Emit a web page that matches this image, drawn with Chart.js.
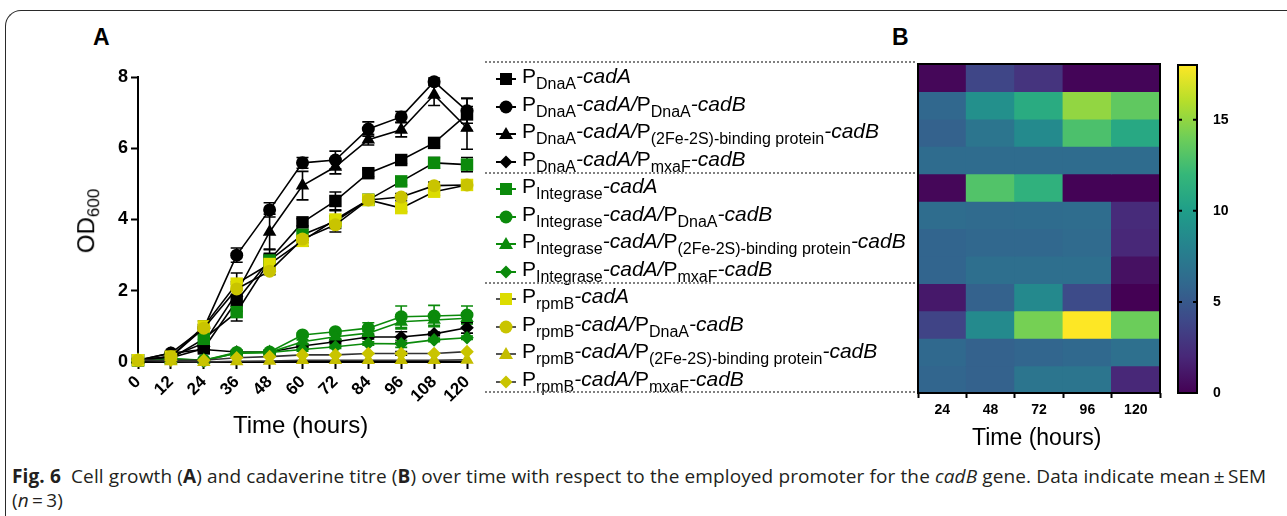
<!DOCTYPE html>
<html><head><meta charset="utf-8">
<script src="https://cdn.jsdelivr.net/npm/chart.js@4.4.0/dist/chart.umd.min.js"></script>
<style>
html,body{margin:0;padding:0;background:#fff;}
#fig{position:relative;width:1287px;height:516px;overflow:hidden;font-family:"Liberation Sans",Arial,sans-serif;color:#000;}
.frame{position:absolute;left:5px;top:10px;width:1400px;height:600px;border-top:1.5px solid #2a2a2a;border-left:1.5px solid #2a2a2a;border-top-left-radius:16px;}
canvas{position:absolute;}
.panel{position:absolute;font-weight:bold;font-size:23px;}
.ttl{position:absolute;font-size:24px;white-space:nowrap;}
.leg{position:absolute;left:492px;height:26px;line-height:26px;font-size:21px;white-space:nowrap;}
.leg svg{position:absolute;left:0;top:3px;}
.leg span.t{position:absolute;left:30px;top:-3px;}
.leg sub{font-size:16px;vertical-align:-6px;line-height:0;font-style:normal;}
.dots{position:absolute;left:485px;width:430px;border-top:2.5px dotted #808080;}
.cap{position:absolute;left:12px;top:464px;font-family:"Open Sans",sans-serif;font-size:19px;line-height:24px;color:#231f20;white-space:nowrap;letter-spacing:0.12px;}
</style></head>
<body>
<div id="fig">
  <div class="frame"></div>
  <div class="panel" style="left:93px;top:24px;">A</div>
  <div class="panel" style="left:892px;top:24px;">B</div>
  <canvas id="lineChart" width="530" height="445" style="left:0;top:0;"></canvas>
  <canvas id="heatChart" width="300" height="445" style="left:880px;top:0;"></canvas>
  <canvas id="barChart" width="80" height="445" style="left:1170px;top:0;"></canvas>
  <div class="ttl" style="left:56px;top:205px;transform:rotate(-90deg);transform-origin:center;">OD<sub style="font-size:17px;vertical-align:-5px;">600</sub></div>
  <div class="ttl" style="left:233px;top:411px;">Time (hours)</div>
  <div class="ttl" style="left:972px;top:424px;font-size:23px;">Time (hours)</div>
  <div id="legend"></div>
  <div class="cap"><b>Fig. 6</b>&nbsp; Cell growth (<b>A</b>) and cadaverine titre (<b>B</b>) over time with respect to the employed promoter for the <i>cadB</i> gene. Data indicate mean&thinsp;±&thinsp;SEM<br>(<i>n</i>&thinsp;=&thinsp;3)</div>
</div>
<script>
// ---------- DATA ----------
const hours = [0, 12, 24, 36, 48, 60, 72, 84, 96, 108, 120];

const od_DnaA_cadA        = [0.05, 0.12, 0.38, 1.72, 2.87, 3.92, 4.52, 5.30, 5.67, 6.15, 6.95];
const od_DnaA_DnaA        = [0.05, 0.25, 0.95, 3.00, 4.27, 5.59, 5.67, 6.54, 6.88, 7.87, 7.05];
const od_DnaA_FeS         = [0.05, 0.15, 0.53, 1.94, 3.65, 4.95, 5.48, 6.24, 6.52, 7.50, 6.57];
const od_DnaA_mxaF        = [0.05, 0.25, 0.35, 0.28, 0.28, 0.45, 0.57, 0.70, 0.70, 0.79, 0.96];
const od_Int_cadA         = [0.05, 0.10, 0.65, 1.40, 2.85, 3.57, 3.95, 4.55, 5.07, 5.59, 5.54];
const od_Int_DnaA         = [0.05, 0.10, 0.05, 0.27, 0.28, 0.76, 0.85, 0.95, 1.27, 1.29, 1.32];
const od_Int_FeS          = [0.05, 0.08, 0.05, 0.25, 0.27, 0.57, 0.71, 0.81, 1.13, 1.18, 1.23];
const od_Int_mxaF         = [0.05, 0.08, 0.03, 0.25, 0.27, 0.35, 0.43, 0.52, 0.51, 0.62, 0.68];
const od_rpmB_cadA        = [0.05, 0.15, 1.00, 2.20, 2.75, 3.40, 4.00, 4.55, 4.32, 4.78, 4.97];
const od_rpmB_DnaA        = [0.05, 0.15, 0.95, 2.05, 2.55, 3.45, 3.85, 4.55, 4.63, 4.95, 4.97];
const od_rpmB_FeS         = [0.05, 0.02, 0.00, 0.02, 0.03, 0.05, 0.05, 0.05, 0.05, 0.05, 0.06];
const od_rpmB_mxaF        = [0.05, 0.05, 0.05, 0.12, 0.15, 0.20, 0.20, 0.24, 0.24, 0.24, 0.29];

const sem_DnaA_cadA = [0, 0, 0.10, 0.30, 0.30, 0.10, 0.25, 0.10, 0.10, 0.10, 0.45];
const sem_DnaA_DnaA = [0, 0.05, 0.10, 0.20, 0.20, 0.15, 0.25, 0.20, 0.15, 0.10, 0.35];
const sem_DnaA_FeS  = [0, 0.05, 0.10, 0.25, 0.50, 0.40, 0.20, 0.15, 0.20, 0.30, 0.60];
const sem_DnaA_mxaF = [0, 0, 0.05, 0.05, 0.05, 0.05, 0.05, 0.05, 0.15, 0.05, 0.15];
const sem_Int_cadA  = [0, 0, 0.10, 0.25, 0.20, 0.15, 0.30, 0.10, 0.10, 0.15, 0.20];
const sem_Int_DnaA  = [0, 0, 0, 0.05, 0.05, 0.05, 0.05, 0.15, 0.30, 0.30, 0.25];
const sem_Int_FeS   = [0, 0, 0, 0.05, 0.05, 0.05, 0.05, 0.05, 0.20, 0.15, 0.15];
const sem_Int_mxaF  = [0, 0, 0, 0.05, 0.05, 0.05, 0.05, 0.05, 0.10, 0.05, 0.05];
const sem_rpmB_cadA = [0, 0, 0.15, 0.30, 0.15, 0.15, 0.10, 0.15, 0.10, 0.10, 0.10];
const sem_rpmB_DnaA = [0, 0, 0.10, 0.20, 0.10, 0.10, 0.10, 0.10, 0.10, 0.10, 0.10];
const sem_rpmB_FeS  = [0, 0, 0, 0, 0, 0, 0, 0, 0, 0, 0];
const sem_rpmB_mxaF = [0, 0, 0, 0, 0, 0, 0, 0, 0.05, 0, 0];

const yTicks = [0, 2, 4, 6, 8];

// Heatmap (cadaverine titre), columns = heatHours
const heatHours = ['24', '48', '72', '96', '120'];
const titre_DnaA_cadA = [0.3, 3.8, 2.7, 0.2, 0.2];
const titre_DnaA_DnaA = [6.0, 9.0, 11.0, 15.0, 13.5];
const titre_DnaA_FeS  = [5.6, 7.0, 8.6, 12.8, 10.8];
const titre_DnaA_mxaF = [6.3, 6.3, 6.3, 6.3, 6.3];
const titre_Int_cadA  = [0.3, 13.0, 11.5, 0.1, 0.1];
const titre_Int_DnaA  = [6.4, 6.2, 6.3, 6.4, 2.2];
const titre_Int_FeS   = [5.8, 6.0, 6.0, 6.2, 2.0];
const titre_Int_mxaF  = [5.8, 6.5, 6.5, 6.5, 0.8];
const titre_rpmB_cadA = [1.2, 5.6, 8.5, 4.1, 0.0];
const titre_rpmB_DnaA = [3.7, 8.6, 14.2, 18.0, 13.9];
const titre_rpmB_FeS  = [6.1, 5.6, 5.9, 6.1, 6.6];
const titre_rpmB_mxaF = [5.9, 5.6, 7.0, 7.0, 2.0];
const colorbarTicks = [0, 5, 10, 15];
const colorbarMax = 18;

// ---------- STYLES ----------
const BLK = '#000000', GRN = '#0b8a0b', YEL_S = '#dcdc00', YEL_C = '#c9c400', YEL_T = '#c4bd00';

const series = [
  {p1:'DnaA', p2:null, d:od_DnaA_cadA, e:sem_DnaA_cadA, shape:'rect', col:BLK, line:BLK, bar:BLK},
  {p1:'DnaA', p2:'DnaA', d:od_DnaA_DnaA, e:sem_DnaA_DnaA, shape:'circle', col:BLK, line:BLK, bar:BLK},
  {p1:'DnaA', p2:'(2Fe-2S)-binding protein', d:od_DnaA_FeS, e:sem_DnaA_FeS, shape:'triangle', col:BLK, line:BLK, bar:BLK},
  {p1:'DnaA', p2:'mxaF', d:od_DnaA_mxaF, e:sem_DnaA_mxaF, shape:'rectRot', col:BLK, line:BLK, bar:BLK},
  {p1:'Integrase', p2:null, d:od_Int_cadA, e:sem_Int_cadA, shape:'rect', col:GRN, line:BLK, bar:BLK},
  {p1:'Integrase', p2:'DnaA', d:od_Int_DnaA, e:sem_Int_DnaA, shape:'circle', col:GRN, line:GRN, bar:GRN},
  {p1:'Integrase', p2:'(2Fe-2S)-binding protein', d:od_Int_FeS, e:sem_Int_FeS, shape:'triangle', col:GRN, line:GRN, bar:GRN},
  {p1:'Integrase', p2:'mxaF', d:od_Int_mxaF, e:sem_Int_mxaF, shape:'rectRot', col:GRN, line:GRN, bar:GRN},
  {p1:'rpmB', p2:null, d:od_rpmB_cadA, e:sem_rpmB_cadA, shape:'rect', col:YEL_S, line:BLK, bar:BLK},
  {p1:'rpmB', p2:'DnaA', d:od_rpmB_DnaA, e:sem_rpmB_DnaA, shape:'circle', col:YEL_C, line:BLK, bar:BLK},
  {p1:'rpmB', p2:'(2Fe-2S)-binding protein', d:od_rpmB_FeS, e:sem_rpmB_FeS, shape:'triangle', col:YEL_T, line:'#333', bar:BLK},
  {p1:'rpmB', p2:'mxaF', d:od_rpmB_mxaF, e:sem_rpmB_mxaF, shape:'rectRot', col:YEL_C, line:'#333', bar:BLK},
];
const radius = {rect:8.8, circle:6.5, triangle:7.8, rectRot:6.8};

// ---------- LEGEND (HTML, real text) ----------
function markerSVG(shape, col, line){
  let m='';
  const cx=14, cy=10;
  if(shape==='rect') m=`<rect x="${cx-6}" y="${cy-6}" width="12" height="12" fill="${col}"/>`;
  if(shape==='circle') m=`<circle cx="${cx}" cy="${cy}" r="6.5" fill="${col}"/>`;
  if(shape==='triangle') m=`<polygon points="${cx},${cy-7} ${cx+7},${cy+5} ${cx-7},${cy+5}" fill="${col}"/>`;
  if(shape==='rectRot') m=`<polygon points="${cx},${cy-6.5} ${cx+6.5},${cy} ${cx},${cy+6.5} ${cx-6.5},${cy}" fill="${col}"/>`;
  return `<svg width="28" height="20"><line x1="4" y1="${cy}" x2="24" y2="${cy}" stroke="${line}" stroke-width="2"/>${m}</svg>`;
}
const legendTops = [79,106.5,134,161.5,189,216.5,244,271.5,299,326.5,354,381.5];
let lh='';
series.forEach((s,i)=>{
  let txt = `P<sub>${s.p1}</sub><i>-cadA</i>`;
  if(s.p2) txt += `<i>/</i>P<sub>${s.p2}</sub><i>-cadB</i>`;
  const lc = s.col===BLK?BLK:(s.col===GRN?GRN:'#555');
  lh += `<div class="leg" style="top:${legendTops[i]-13}px;">${markerSVG(s.shape,s.col,lc)}<span class="t">${txt}</span></div>`;
});
[62,173,283,392].forEach(y=>{ lh += `<div class="dots" style="top:${y-1}px;"></div>`; });
document.getElementById('legend').innerHTML = lh;

// ---------- LINE CHART ----------
const errorBars = {
  id:'errorBars',
  beforeDatasetsDraw(chart){
    const {ctx, scales:{x,y}} = chart;
    ctx.save();
    chart.data.datasets.forEach(ds=>{
      ctx.strokeStyle = ds.errColor; ctx.lineWidth = 1.6;
      ds.data.forEach((pt,i)=>{
        const e = ds.err[i]; if(!e) return;
        const v = pt.y;
        const px = x.getPixelForValue(pt.x);
        const t = y.getPixelForValue(v+e), b = y.getPixelForValue(Math.max(0,v-e));
        ctx.beginPath();
        ctx.moveTo(px,t); ctx.lineTo(px,b);
        ctx.moveTo(px-6,t); ctx.lineTo(px+6,t);
        ctx.moveTo(px-6,b); ctx.lineTo(px+6,b);
        ctx.stroke();
      });
    });
    ctx.restore();
  }
};

new Chart(document.getElementById('lineChart'), {
  type:'line',
  data:{
    datasets: series.map(s=>({
      data: s.d.map((v,i)=>({x:hours[i], y:v})),
      err: s.e, errColor: s.bar,
      borderColor: s.line, borderWidth: 1.6,
      pointStyle: s.shape, pointRadius: radius[s.shape],
      pointBackgroundColor: s.col, pointBorderColor: s.col, pointBorderWidth: 0,
      clip: false, tension: 0
    })).reverse()
  },
  options:{
    responsive:false, animation:false, devicePixelRatio:1,
    layout:{padding:{top:77, right:63, left:0, bottom:0}},
    plugins:{legend:{display:false}, tooltip:{enabled:false}},
    scales:{
      x:{type:'linear', min:0, max:120,
         afterBuildTicks(sc){ sc.ticks = hours.map(v=>({value:v})); },
         afterFit(sc){ sc.height = 83; },
         grid:{drawOnChartArea:false, drawTicks:true, tickLength:7, tickColor:'#000', tickWidth:2},
         border:{color:'#000', width:2},
         ticks:{autoSkip:false, minRotation:45, maxRotation:45, color:'#000', padding:3,
                font:{family:'"Liberation Sans", Arial', size:17, weight:'bold'}}
      },
      y:{type:'linear', min:0, max:8,
         afterBuildTicks(sc){ sc.ticks = yTicks.map(v=>({value:v})); },
         afterFit(sc){ sc.width = 138; },
         grid:{drawOnChartArea:false, drawTicks:true, tickLength:7, tickColor:'#000', tickWidth:2},
         border:{color:'#000', width:2},
         ticks:{color:'#000', padding:3, font:{family:'"Liberation Sans", Arial', size:18, weight:'bold'}}
      }
    }
  },
  plugins:[errorBars]
});

// ---------- HEATMAP ----------
const viridisStops = ['#440154','#482878','#3e4989','#31688e','#26828e','#1f9e89','#35b779','#6ece58','#b5de2b','#fde725'];
function hex2rgb(h){ return [parseInt(h.slice(1,3),16),parseInt(h.slice(3,5),16),parseInt(h.slice(5,7),16)]; }
function viridis(v){
  let t = Math.max(0, Math.min(1, v/colorbarMax)) * (viridisStops.length-1);
  const i = Math.min(Math.floor(t), viridisStops.length-2), f = t - i;
  const a = hex2rgb(viridisStops[i]), b = hex2rgb(viridisStops[i+1]);
  return `rgb(${a.map((c,k)=>Math.round(c+(b[k]-c)*f)).join(',')})`;
}
const heatRows = [titre_DnaA_cadA, titre_DnaA_DnaA, titre_DnaA_FeS, titre_DnaA_mxaF,
                  titre_Int_cadA, titre_Int_DnaA, titre_Int_FeS, titre_Int_mxaF,
                  titre_rpmB_cadA, titre_rpmB_DnaA, titre_rpmB_FeS, titre_rpmB_mxaF];
const frame = {
  id:'frame',
  afterDraw(chart){
    const {ctx, chartArea:a} = chart;
    ctx.save(); ctx.strokeStyle='#000'; ctx.lineWidth=2;
    ctx.strokeRect(a.left, a.top, a.right-a.left, a.bottom-a.top);
    ctx.restore();
  }
};
new Chart(document.getElementById('heatChart'), {
  type:'bar',
  data:{
    labels: heatHours,
    datasets: heatRows.map((vals,r)=>({
      data: vals.map(()=>[r, r+1]),
      backgroundColor: vals.map(viridis),
      borderWidth:0, barPercentage:1, categoryPercentage:1, grouped:false, inflateAmount:0.6
    }))
  },
  options:{
    responsive:false, animation:false, devicePixelRatio:1,
    layout:{padding:{top:64, right:20, left:38, bottom:0}},
    plugins:{legend:{display:false}, tooltip:{enabled:false}},
    scales:{
      x:{afterFit(sc){ sc.height = 52; },
         grid:{drawOnChartArea:false, drawTicks:true, tickLength:5, tickColor:'#000', tickWidth:2},
         border:{display:false},
         ticks:{color:'#000', padding:4, font:{family:'"Liberation Sans", Arial', size:14, weight:'bold'}}},
      y:{type:'linear', min:0, max:12, reverse:true, display:false}
    }
  },
  plugins:[frame]
});

// ---------- COLOR BAR ----------
const cbTicks = {
  id:'cbTicks',
  afterDraw(chart){
    const {ctx, chartArea:a, scales:{y}} = chart;
    ctx.save(); ctx.strokeStyle='#000'; ctx.lineWidth=2;
    colorbarTicks.slice(1).forEach(v=>{
      const py = y.getPixelForValue(v);
      ctx.beginPath();
      ctx.moveTo(a.left, py); ctx.lineTo(a.left+4, py);
      ctx.moveTo(a.right-4, py); ctx.lineTo(a.right, py);
      ctx.stroke();
    });
    ctx.restore();
  }
};
new Chart(document.getElementById('barChart'), {
  type:'bar',
  data:{
    labels:[''],
    datasets:[{
      data:[[0, colorbarMax]],
      backgroundColor(c){
        const {chart} = c; const a = chart.chartArea; if(!a) return '#fff';
        const g = chart.ctx.createLinearGradient(0, a.bottom, 0, a.top);
        viridisStops.forEach((s,i)=>g.addColorStop(i/(viridisStops.length-1), s));
        return g;
      },
      borderWidth:0, barPercentage:1, categoryPercentage:1
    }]
  },
  options:{
    responsive:false, animation:false, devicePixelRatio:1,
    layout:{padding:{top:65, right:0, left:8, bottom:52}},
    plugins:{legend:{display:false}, tooltip:{enabled:false}},
    scales:{
      x:{display:false},
      y:{type:'linear', position:'right', min:0, max:colorbarMax,
         afterBuildTicks(sc){ sc.ticks = colorbarTicks.map(v=>({value:v})); },
         afterFit(sc){ sc.width = 53; },
         grid:{display:false}, border:{display:false},
         ticks:{color:'#000', padding:8, font:{family:'"Liberation Sans", Arial', size:14, weight:'bold'}}}
    }
  },
  plugins:[frame, cbTicks]
});
</script>
</body></html>
